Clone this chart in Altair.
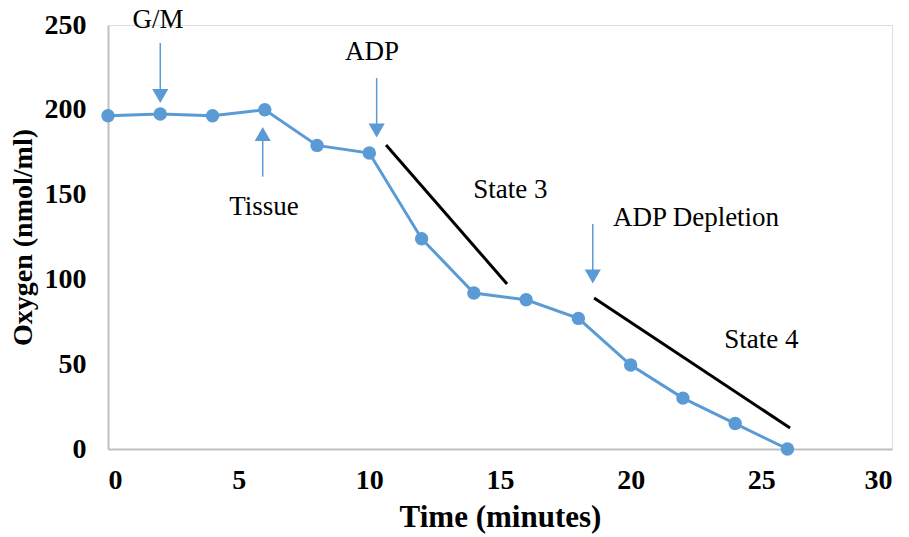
import altair as alt
import pandas as pd

# Main series
time_min = [0, 2, 4, 6, 8, 10, 12, 14, 16, 18, 20, 22, 24, 26]
oxygen = [196.5, 197.5, 196.5, 200, 179, 174.5, 124, 92, 88, 77, 49.5, 30, 15, 0]

# Black trend lines (State 3 and State 4)
trend_name = ["State 3", "State 3", "State 4", "State 4"]
trend_x = [10.64, 15.27, 18.6, 26.1]
trend_y = [179.2, 97.3, 89.0, 12.4]

# Arrows: shaft start/end and head position
arrow_name = ["G/M", "Tissue", "ADP", "ADP Depletion"]
arrow_x = [2, 5.92, 10.28, 18.55]
arrow_y1 = [239.4, 160.6, 218.7, 132.7]
arrow_y2 = [211.0, 183.0, 190.5, 105.0]
arrow_head_y = [208.1, 185.7, 187.8, 101.7]
arrow_dir = ["triangle-down", "triangle-up", "triangle-down", "triangle-down"]

# Text annotations
label_text = ["G/M", "ADP", "Tissue", "State 3", "ADP Depletion", "State 4"]
label_x = [1.91, 10.1, 5.97, 15.4, 22.5, 25.0]
label_y = [253, 234, 142.7, 152.7, 136.2, 64.3]

FONT = "Liberation Serif"
BLUE = "#5B9BD5"

df = pd.DataFrame({"t": time_min, "o": oxygen})
trend = pd.DataFrame({"name": trend_name, "x": trend_x, "y": trend_y})
arrows = pd.DataFrame({"name": arrow_name, "x": arrow_x, "y1": arrow_y1,
                       "y2": arrow_y2, "hy": arrow_head_y, "shape": arrow_dir})
labels = pd.DataFrame({"text": label_text, "x": label_x, "y": label_y})

xs = alt.Scale(domain=[0, 30], nice=False)
ys = alt.Scale(domain=[0, 250], nice=False)

base_x = alt.X("t:Q", scale=xs,
               axis=alt.Axis(title="Time (minutes)", values=[0, 5, 10, 15, 20, 25, 30],
                             grid=False, ticks=False, domainColor="#BFBFBF", domainWidth=2,
                             labelFont=FONT, labelFontSize=28, labelFontWeight="bold",
                             labelColor="black", labelPadding=17,
                             titleFont=FONT, titleFontSize=31, titleFontWeight="bold",
                             titleColor="black", titlePadding=8))
base_y = alt.Y("o:Q", scale=ys,
               axis=alt.Axis(title="Oxygen (nmol/ml)", values=[0, 50, 100, 150, 200, 250],
                             grid=False, ticks=False, domainColor="#BFBFBF", domainWidth=2,
                             labelFont=FONT, labelFontSize=28, labelFontWeight="bold",
                             labelColor="black", labelPadding=22,
                             titleFont=FONT, titleFontSize=28, titleFontWeight="bold",
                             titleColor="black", titlePadding=7))

line = alt.Chart(df).mark_line(color=BLUE, strokeWidth=3).encode(x=base_x, y=base_y)
pts = alt.Chart(df).mark_point(color=BLUE, filled=True, size=180, opacity=1).encode(x="t:Q", y="o:Q")

tr = alt.Chart(trend).mark_line(color="black", strokeWidth=3).encode(
    x=alt.X("x:Q", scale=xs), y=alt.Y("y:Q", scale=ys), detail="name:N")

shafts = alt.Chart(arrows).mark_rule(color=BLUE, strokeWidth=1.5).encode(
    x=alt.X("x:Q", scale=xs), y=alt.Y("y1:Q", scale=ys), y2="y2:Q")
heads = alt.Chart(arrows).mark_point(color=BLUE, filled=True, size=260, opacity=1).encode(
    x=alt.X("x:Q", scale=xs), y=alt.Y("hy:Q", scale=ys),
    shape=alt.Shape("shape:N", scale=None))

txt = alt.Chart(labels).mark_text(font=FONT, fontSize=27, color="black").encode(
    x=alt.X("x:Q", scale=xs), y=alt.Y("y:Q", scale=ys), text="text:N")

chart = alt.layer(line, tr, shafts, heads, pts, txt).properties(
    width=784, height=424,
    autosize=alt.AutoSizeParams(type="none"),
    padding={"left": 108, "top": 25, "right": 17, "bottom": 88},
).configure_view(stroke=None).configure(background="white")

chart.save("out.html", embed_options={"renderer": "svg", "actions": False})
